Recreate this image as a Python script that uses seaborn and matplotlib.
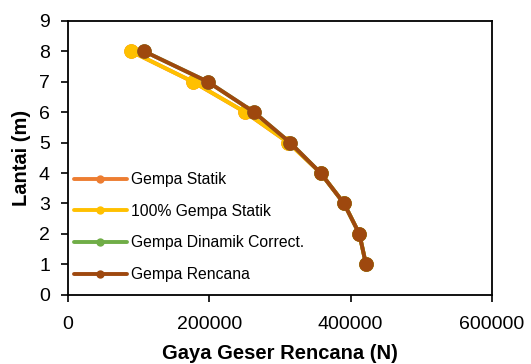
import matplotlib
matplotlib.use("Agg")
import matplotlib.pyplot as plt
from matplotlib.lines import Line2D
import pandas as pd
import seaborn as sns

# Storey levels and shear forces per load case
lantai = [1, 2, 3, 4, 5, 6, 7, 8]
gempa_statik = [421700, 412300, 390600, 357500, 311800, 250500, 176400, 88700]
gempa_statik_100 = [421700, 412300, 390600, 357500, 311800, 250500, 176400, 88700]
gempa_dinamik_correct = [421700, 412300, 390600, 357500, 314200, 263200, 197600, 107500]
gempa_rencana = [421700, 412300, 390600, 357500, 314200, 263200, 197600, 107500]

series_names = ["Gempa Statik", "100% Gempa Statik", "Gempa Dinamik Correct.", "Gempa Rencana"]
series_values = [gempa_statik, gempa_statik_100, gempa_dinamik_correct, gempa_rencana]
colors = ["#ED7D31", "#FFC000", "#70AD47", "#9E480E"]

x_ticks = [0, 200000, 400000, 600000]
y_ticks = list(range(0, 10))

frames = []
for name, vals in zip(series_names, series_values):
    frames.append(pd.DataFrame({"gaya": vals, "lantai": lantai, "seri": name}))
df = pd.concat(frames, ignore_index=True)

sns.set_style("ticks")
plt.rcParams["font.family"] = ["Liberation Sans", "DejaVu Sans"]
plt.rcParams["text.color"] = "black"
plt.rcParams["axes.labelcolor"] = "black"

fig = plt.figure(figsize=(5.31, 3.64), dpi=100)
ax = fig.add_axes([0.128, 0.19, 0.7986, 0.753])

sns.lineplot(
    data=df, x="gaya", y="lantai", hue="seri", hue_order=series_names,
    palette=colors, sort=False, marker="o", markersize=10.5,
    markeredgewidth=0, linewidth=2.8, legend=False, ax=ax,
)

ax.set_xlim(0, 600000)
ax.set_ylim(0, 9)
ax.set_xticks(x_ticks)
ax.set_xticklabels([str(v) for v in x_ticks])
ax.set_yticks(y_ticks)
ax.tick_params(axis="both", labelsize=14, direction="out", length=5,
               width=1.2, color="black", labelcolor="black")
ax.tick_params(axis="x", pad=10)
ax.tick_params(axis="y", pad=8)
for s in ax.spines.values():
    s.set_color("black")
    s.set_linewidth(1.3)

ax.set_xlabel("Gaya Geser Rencana (N)", fontsize=14.5, fontweight="bold", labelpad=8)
ax.set_ylabel("Lantai (m)", fontsize=14.5, fontweight="bold", labelpad=6)

handles = [Line2D([0], [0], color=c, lw=2.8, marker="o", markersize=6, markeredgewidth=0)
           for c in colors]
leg = ax.legend(handles, series_names, loc="lower left", bbox_to_anchor=(-0.02, -0.005),
                frameon=False, fontsize=11.3, handlelength=3.4, handletextpad=0.25,
                labelspacing=1.06)
for t in leg.get_texts():
    t.set_color("black")

fig.savefig("out.png", dpi=100)
